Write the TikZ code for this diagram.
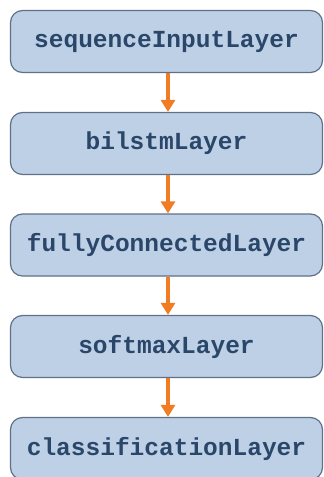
\documentclass[tikz,border=0pt]{standalone}
\usepackage{fontspec}
\setmonofont{Liberation Mono}
\usetikzlibrary{arrows.meta}
\definecolor{boxfill}{RGB}{190,208,230}
\definecolor{boxline}{RGB}{95,112,135}
\definecolor{boxtext}{RGB}{42,70,105}
\definecolor{arrowc}{RGB}{240,125,35}
\begin{document}
\begin{tikzpicture}[x=1pt,y=-1pt,
  layerbox/.style={draw=boxline,line width=1.2pt,fill=boxfill,rounded corners=12pt,
    minimum width=312pt,minimum height=62pt,inner sep=0pt,
    font=\ttfamily\bfseries\fontsize{24.5}{27}\selectfont,text=boxtext},
  flow/.style={draw=arrowc,line width=4pt,-{Triangle[width=14pt,length=12pt]}}]
\useasboundingbox (0,0) rectangle (324,477);
\node[layerbox] (a) at (166.5,41.5) {sequenceInputLayer};
\node[layerbox] (b) at (166.5,143.5) {bilstmLayer};
\node[layerbox] (c) at (166.5,245) {fullyConnectedLayer};
\node[layerbox] (d) at (166.5,346.5) {softmaxLayer};
\node[layerbox] (e) at (166.5,448.5) {classificationLayer};
\foreach \u/\v in {a/b,b/c,c/d,d/e}
  \draw[flow] ([xshift=1.5pt]\u.south) -- ([xshift=1.5pt]\v.north);
\end{tikzpicture}
\end{document}
